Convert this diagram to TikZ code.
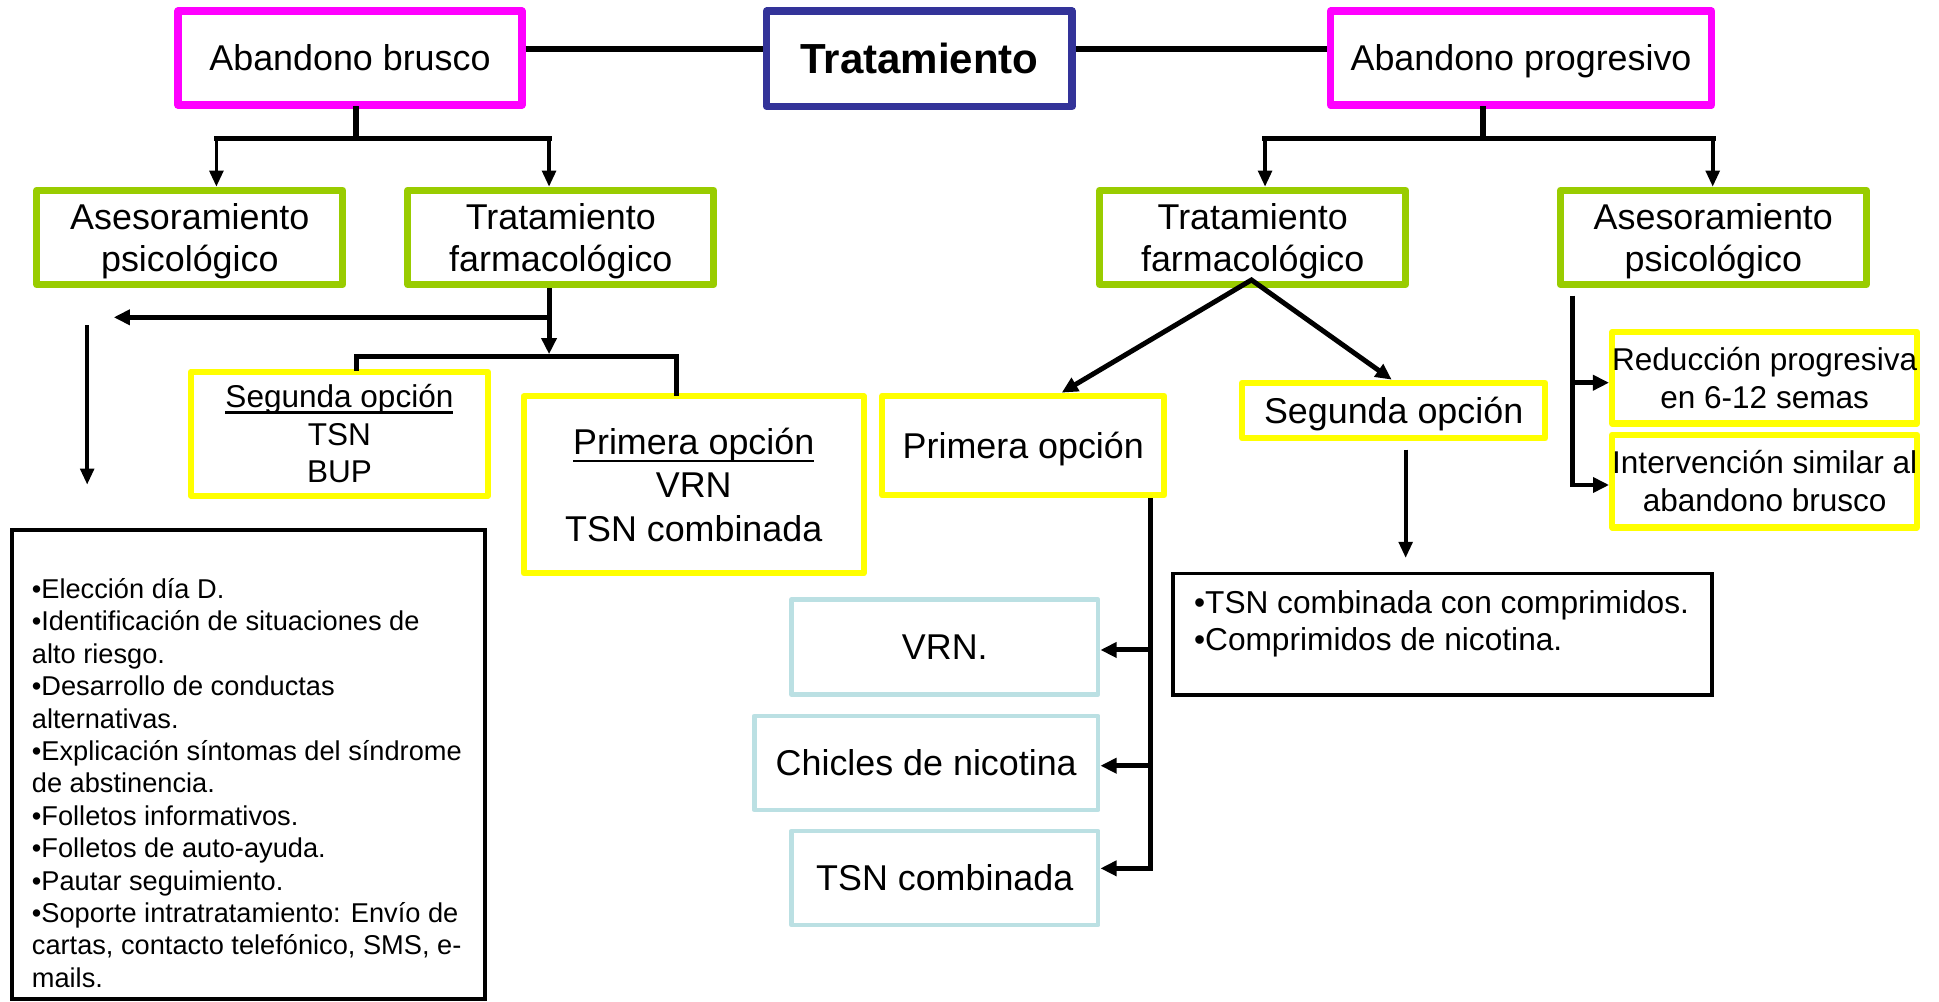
\documentclass[tikz,border=0pt]{standalone}
\usepackage{fontspec}
\setmainfont{Liberation Sans}
\usetikzlibrary{arrows.meta,calc}
\definecolor{cMag}{RGB}{255,0,255}
\definecolor{cNavy}{RGB}{51,51,153}
\definecolor{cGreen}{RGB}{153,204,0}
\definecolor{cYel}{RGB}{255,255,0}
\definecolor{cCyan}{RGB}{187,224,227}
\newsavebox\myulbox
\newcommand\myul[2]{\sbox\myulbox{#2}\rlap{\rule[#1]{\wd\myulbox}{2.2pt}}\usebox\myulbox}
\begin{document}
\begin{tikzpicture}[x=1pt,y=-1pt,
  box/.style={draw, line join=round, inner sep=0pt, align=center},
  fbig/.style={font=\fontsize{29}{33.6}\selectfont},
  oneline/.style={text height=20.8pt, text depth=0pt},
  pinkbox/.style={box, draw=cMag, line width=6pt, minimum width=278pt, minimum height=76pt, fbig, oneline},
  greenbox/.style={box, draw=cGreen, line width=5.5pt, minimum width=247.5pt, minimum height=76.5pt,
                   font=\fontsize{29}{34.2}\selectfont, text depth=0pt},
  yelbox/.style={box, draw=cYel, line width=5pt},
  cyanbox/.style={box, draw=cCyan, line width=3.8pt, fbig, oneline},
  blackbox/.style={draw=black, line width=3.2pt, inner sep=0pt},
  link/.style={line width=4.6pt, line cap=rect},
  arr/.style={line width=3pt, -{Triangle[length=13pt,width=11pt]}},
  arrb/.style={line width=4pt, -{Triangle[length=13pt,width=12pt]}},
  biarr/.style={line width=4pt, {Triangle[length=13pt,width=12pt]}-{Triangle[length=13pt,width=12pt]}}
]
\useasboundingbox (0,0) rectangle (1568,810);

% top row
\node[pinkbox] (ab) at (283,47) {Abandono brusco};
\node[box, draw=cNavy, line width=6pt, minimum width=247pt, minimum height=77pt,
      font=\fontsize{34}{40}\selectfont\bfseries, text height=24.3pt, text depth=0pt] (trat) at (743.5,47.5) {Tratamiento};
\node[pinkbox, minimum width=308pt] (ap) at (1230,47) {Abandono progresivo};

% second row
\node[greenbox] (asl) at (153.5,192) {Asesoramiento\\psicológico};
\node[greenbox] (tfl) at (453.5,192) {Tratamiento\\farmacológico};
\node[greenbox] (tfr) at (1013,192) {Tratamiento\\farmacológico};
\node[greenbox] (asr) at (1385.5,192) {Asesoramiento\\psicológico};

% options
\node[yelbox, minimum width=240pt, minimum height=100.5pt, font=\fontsize{25.5}{30.3}\selectfont] (sol) at (274.5,350.75)
  {\myul{-5pt}{Segunda opción}\\TSN\\BUP};
\node[yelbox, minimum width=275pt, minimum height=143pt, font=\fontsize{29}{35}\selectfont] (pol) at (561,392)
  {\myul{-6.4pt}{Primera opción}\\VRN\\TSN combinada};
\node[yelbox, minimum width=228pt, minimum height=80.5pt, fbig, oneline] (por) at (827.5,360.25) {Primera opción};
\node[yelbox, minimum width=245pt, minimum height=45pt, fbig, oneline] (sor) at (1127,332) {Segunda opción};
\node[yelbox, minimum width=245pt, minimum height=74pt, font=\fontsize{25.5}{31}\selectfont] (red) at (1427,305.5)
  {Reducción progresiva\\en 6-12 semas};
\node[yelbox, minimum width=245pt, minimum height=75pt, font=\fontsize{25.5}{31}\selectfont] (interv) at (1427,389)
  {Intervención similar al\\abandono brusco};

% black text boxes
\node[blackbox, minimum width=383pt, minimum height=379pt] (list) at (201,618) {};
\node[anchor=north west, align=left, inner sep=0pt, font=\fontsize{22}{26.2}\selectfont] (listtxt) at (25.6,463.8)
  {\rule{0pt}{20pt}•Elección día D.\\
   •Identificación de situaciones de\\
   alto riesgo.\\
   •Desarrollo de conductas\\
   alternativas.\\
   •Explicación síntomas del síndrome\\
   de abstinencia.\\
   •Folletos informativos.\\
   •Folletos de auto-ayuda.\\
   •Pautar seguimiento.\\
   •Soporte intratratamiento: Envío de\\
   cartas, contacto telefónico, SMS, e-\\
   mails.};
\node[blackbox, minimum width=436pt, minimum height=98pt] (listr) at (1166.75,512.75) {};
\node[anchor=north west, align=left, inner sep=0pt, font=\fontsize{25.6}{29.6}\selectfont] (listrtxt) at (965.4,474)
  {\rule{0pt}{22pt}•TSN combinada con comprimidos.\\•Comprimidos de nicotina.};

% cyan boxes
\node[cyanbox, minimum width=248pt, minimum height=76.7pt] (vrn) at (764,523.25) {VRN.};
\node[cyanbox, minimum width=278pt, minimum height=76pt] (chic) at (749,617) {Chicles de nicotina};
\node[cyanbox, minimum width=248pt, minimum height=76pt] (tsnc) at (764,710) {TSN combinada};

% coordinates
\coordinate (j1) at (0,39.6);
\coordinate (b0) at (288,112);
\coordinate (b1) at (175,112);
\coordinate (b2) at (444,112);
\coordinate (r0) at (1199,112);
\coordinate (r1) at (1023,112);
\coordinate (r2) at (1385,112);
\coordinate (c1) at (444,256.6);
\coordinate (c2) at (92,256.6);
\coordinate (d0) at (444,288.4);
\coordinate (d1) at (288,288.4);
\coordinate (d2) at (547,288.4);
\coordinate (e1) at (70.5,0);
\coordinate (apex) at (1012,226.4);
\coordinate (f1) at (858.6,0);
\coordinate (f2) at (1125.4,0);
\coordinate (g1) at (1136.7,0);
\coordinate (h0) at (930,0);
\coordinate (h1) at (930,525.6);
\coordinate (h2) at (930,619.2);
\coordinate (h3) at (930,702.2);
\coordinate (k0) at (1271.5,0);
\coordinate (k1) at (1271.5,309.5);
\coordinate (k2) at (1271.5,392.2);

% top connectors
\draw[line width=4.6pt] (ab.east |- j1) -- (trat.west |- j1);
\draw[line width=4.6pt] (trat.east |- j1) -- (ap.west |- j1);

% left tree
\draw[link] (ab.south -| b0) -- (b0);
\draw[link] (b1) -- (b2);
\draw[arr] (b1) -- (asl.north -| b1);
\draw[arr] (b2) -- (tfl.north -| b2);

% right tree
\draw[link] (ap.south -| r0) -- (r0);
\draw[link] (r1) -- (r2);
\draw[arr] (r1) -- (tfr.north -| r1);
\draw[arr] (r2) -- (asr.north -| r2);

% left treatment
\draw[arrb, shorten >=2pt] (tfl.south -| b2) -- (d0);
\draw[arrb] (c1) -- (c2);
\draw[link, line width=4pt] (sol.north -| d1) -- (d1) -- (d2) -- (pol.north -| d2);
\draw[arr, shorten <=30pt, shorten >=35pt] (asl.south -| e1) -- (list.north -| e1);

% right treatment
\draw[biarr, line join=miter] (por.north -| f1) -- (apex) -- (sor.north -| f2);
\draw[arr, shorten <=6.5pt, shorten >=11pt] (sor.south -| g1) -- (listr.north -| g1);
\draw[arrb] (por.south -| h0) |- (tsnc.east |- h3);
\draw[arrb] (h1) -- (vrn.east |- h1);
\draw[arrb] (h2) -- (chic.east |- h2);

% right counselling
\draw[arrb, shorten <=6pt] (asr.south -| k0) |- (interv.west |- k2);
\draw[arrb] (k1) -- (red.west |- k1);
\end{tikzpicture}
\end{document}
